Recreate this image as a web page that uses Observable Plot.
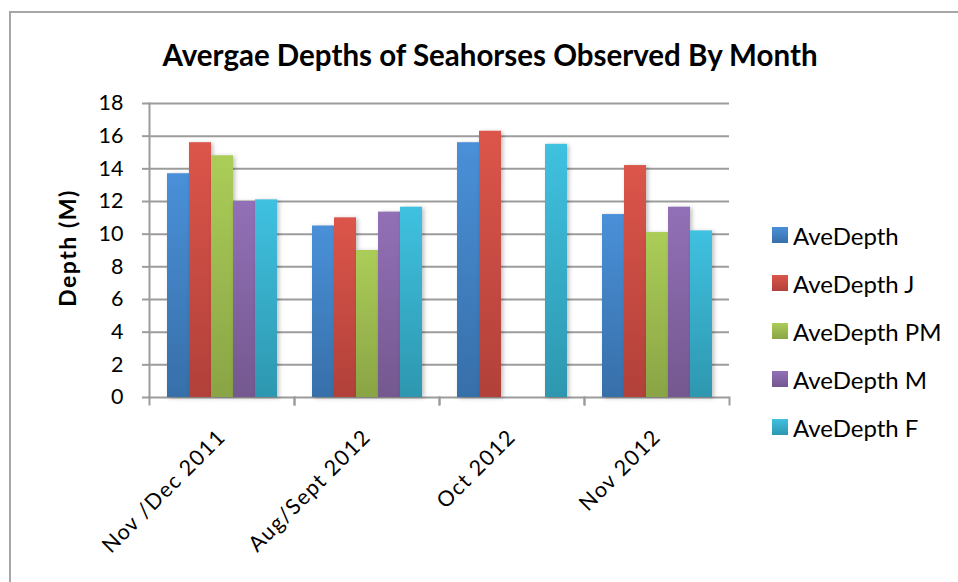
<!DOCTYPE html>
<html>
<head>
<meta charset="utf-8">
<script src="https://cdn.jsdelivr.net/npm/d3@7"></script>
<script src="https://cdn.jsdelivr.net/npm/@observablehq/plot@0.6"></script>
<style>
  html, body { margin: 0; padding: 0; background: #fff; }
  body { width: 958px; height: 582px; overflow: hidden; font-family: Lato, "Open Sans", sans-serif; }
  #wrap { position: relative; width: 958px; height: 582px; }
  #border { position: absolute; left: 9px; top: 11px; width: 970px; height: 600px; border: 2px solid #a6a6a6; box-sizing: border-box; }
  #title { position: absolute; left: 0; width: 980px; top: 37px; text-align: center; font-weight: bold; font-size: 29.5px; color: #000; }
  #ylabel { position: absolute; left: 67px; top: 248px; transform: translate(-50%, -50%) rotate(-90deg); font-weight: bold; font-size: 23px; letter-spacing: 1.5px; white-space: nowrap; }
  #chart { position: absolute; left: 0; top: 0; }
  #legend { position: absolute; left: 772px; top: 211px; }
  .item { display: flex; align-items: center; height: 48px; font-size: 24px; color: #000; }
  .sw { width: 16px; height: 16px; margin-right: 5px; }
  g[aria-label="bar"] rect { filter: drop-shadow(2px 1px 2px rgba(0,0,0,0.25)); }
  g[aria-label="fx-axis tick label"] text { letter-spacing: 1.3px; }
</style>
</head>
<body>
<div id="wrap">
  <div id="border"></div>
  <div id="title"></div>
  <div id="ylabel"></div>
  <div id="chart"></div>
  <div id="legend"></div>
</div>
<svg width="0" height="0" style="position:absolute">
  <defs id="defs"></defs>
</svg>
<script>
const title = "Avergae Depths of Seahorses Observed By Month";
const yLabel = "Depth (M)";
const months = ["Nov /Dec 2011", "Aug/Sept 2012", "Oct 2012", "Nov 2012"];
const series = ["AveDepth", "AveDepth J", "AveDepth PM", "AveDepth M", "AveDepth F"];
const aveDepth   = [13.7, 10.5, 15.6, 11.2];
const aveDepthJ  = [15.6, 11.0, 16.3, 14.2];
const aveDepthPM = [14.8, 9.0, null, 10.1];
const aveDepthM  = [12.0, 11.35, null, 11.65];
const aveDepthF  = [12.1, 11.65, 15.5, 10.2];
const yTicks = [0, 2, 4, 6, 8, 10, 12, 14, 16, 18];
const gradTop    = ["#4a90d8", "#dc554a", "#abcd58", "#9270b7", "#3fc1e0"];
const gradBottom = ["#376fa9", "#b1413a", "#8aa445", "#74588f", "#2e97af"];

const seriesValues = [aveDepth, aveDepthJ, aveDepthPM, aveDepthM, aveDepthF];
const data = [];
months.forEach((m, i) => series.forEach((s, j) => {
  const v = seriesValues[j][i];
  if (v != null) data.push({month: m, series: s, value: v});
}));

// gradients
const defs = d3.select("#defs");
series.forEach((s, j) => {
  const g = defs.append("linearGradient").attr("id", "g" + j).attr("x1", 0).attr("y1", 0).attr("x2", 0).attr("y2", 1);
  g.append("stop").attr("offset", "0%").attr("stop-color", gradTop[j]);
  g.append("stop").attr("offset", "100%").attr("stop-color", gradBottom[j]);
});
const fills = series.map((s, j) => `url(#g${j})`);

document.getElementById("title").textContent = title;
document.getElementById("ylabel").textContent = yLabel;

const gray = "#9c9c9c";
const chart = Plot.plot({
  width: 740,
  height: 582,
  marginTop: 103,
  marginBottom: 185,
  marginLeft: 147,
  marginRight: 10,
  style: {fontFamily: "Lato, 'Open Sans', sans-serif", fontSize: "21px", color: "#000", background: "transparent", overflow: "visible"},
  fx: {domain: months, padding: 0, label: null},
  x: {domain: series, paddingInner: 0, paddingOuter: 0.75, axis: null},
  y: {domain: [0, 18], label: null},
  color: {domain: series, range: fills},
  marks: [
    Plot.gridY(yTicks, {stroke: gray, strokeOpacity: 1, strokeWidth: 2}),
    Plot.frame({anchor: "left", fx: () => months[0], stroke: gray, strokeOpacity: 1, strokeWidth: 2}),
    Plot.frame({anchor: "left", stroke: gray, strokeOpacity: 1, strokeWidth: 2, insetTop: 294, insetBottom: -7}),
    Plot.frame({anchor: "right", stroke: gray, strokeOpacity: 1, strokeWidth: 2, insetTop: 294, insetBottom: -7}),
    Plot.axisY(yTicks, {tickSize: 7, tickPadding: 19, fontSize: 21.5, stroke: gray, strokeWidth: 2, fill: "#000", label: null}),
    Plot.axisFx({anchor: "bottom", tickSize: 0, tickPadding: 36, tickRotate: -45, fontSize: 21.5, fill: "#000", label: null}),
    Plot.barY(data, {fx: "month", x: "series", y: "value", fill: "series"})
  ]
});
document.getElementById("chart").appendChild(chart);

const legend = d3.select("#legend");
series.forEach((s, j) => {
  const it = legend.append("div").attr("class", "item");
  it.append("div").attr("class", "sw").style("background", `linear-gradient(${gradTop[j]}, ${gradBottom[j]})`);
  it.append("span").text(s);
});
</script>
</body>
</html>
